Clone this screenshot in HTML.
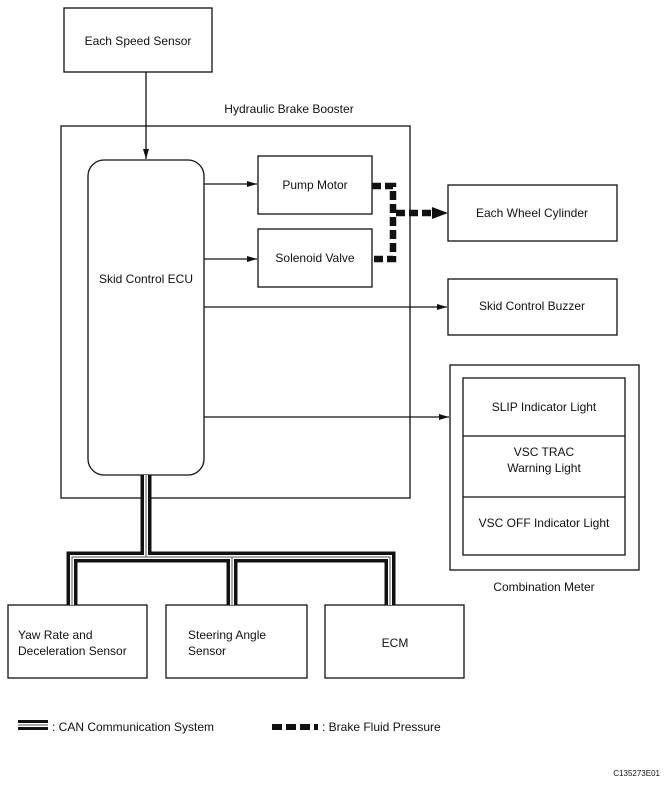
<!DOCTYPE html>
<html><head><style>
body{margin:0;background:#fff;}
svg text{font-family:"Liberation Sans",Arial,sans-serif;font-size:12px;fill:#111;}
</style></head><body>
<svg width="668" height="783" viewBox="0 0 668 783" xmlns="http://www.w3.org/2000/svg">
<defs><marker id="a" markerWidth="10" markerHeight="8" refX="10" refY="4" orient="auto" markerUnits="userSpaceOnUse"><path d="M0,1 L10,4 L0,7z" fill="#111"/></marker></defs>
<g fill="none" stroke="#111" stroke-width="1.3">
<rect x="64" y="8" width="148" height="64"/>
<rect x="61" y="126" width="349" height="372"/>
<rect x="88" y="160" width="116" height="315" rx="16"/>
<rect x="258" y="156" width="114" height="58"/>
<rect x="258" y="229" width="114" height="58"/>
<rect x="448" y="185" width="169" height="56"/>
<rect x="448" y="279" width="169" height="56"/>
<rect x="450" y="365" width="189" height="205"/>
<rect x="463" y="378" width="162" height="177"/>
<line x1="463" y1="436" x2="625" y2="436"/>
<line x1="463" y1="497" x2="625" y2="497"/>
<rect x="8" y="605" width="139" height="73"/>
<rect x="166" y="605" width="141" height="73"/>
<rect x="325" y="605" width="139" height="73"/>
<line x1="146" y1="72" x2="146" y2="159" marker-end="url(#a)"/>
<line x1="204" y1="184" x2="257" y2="184" marker-end="url(#a)"/>
<line x1="204" y1="259" x2="257" y2="259" marker-end="url(#a)"/>
<line x1="204" y1="307" x2="447" y2="307" marker-end="url(#a)"/>
<line x1="204" y1="417" x2="449" y2="417" marker-end="url(#a)"/>
</g>
<g fill="none" stroke="#111" stroke-width="6.5" stroke-dasharray="9,4">
<polyline points="372,186 393,186 393,259 372,259"/>
<line x1="396" y1="213" x2="434" y2="213"/>
</g>
<path d="M432,207 L448,213 L432,219z" fill="#111"/>
<g fill="none" stroke-linejoin="miter">
<path d="M146,475 V557 M72,605 V557 H390 V605 M232,557 V605" stroke="#111" stroke-width="11"/>
<path d="M146,475 V557 M72,605 V557 H390 V605 M232,557 V605" stroke="#fff" stroke-width="4"/>
<path d="M146,475 V557 M72,605 V557 H390 V605 M232,557 V605" stroke="#555" stroke-width="1"/>
<path d="M18,725 H48" stroke="#111" stroke-width="10"/>
<path d="M18,725 H48" stroke="#fff" stroke-width="4"/>
<path d="M18,725 H48" stroke="#555" stroke-width="1"/>
<path d="M272,727 H318" stroke="#111" stroke-width="6" stroke-dasharray="10,4"/>
</g>
<text x="138" y="45" text-anchor="middle">Each Speed Sensor</text>
<text x="289" y="113" text-anchor="middle">Hydraulic Brake Booster</text>
<text x="146" y="283" text-anchor="middle">Skid Control ECU</text>
<text x="315" y="189" text-anchor="middle">Pump Motor</text>
<text x="315" y="262" text-anchor="middle">Solenoid Valve</text>
<text x="532" y="217" text-anchor="middle">Each Wheel Cylinder</text>
<text x="532" y="310" text-anchor="middle">Skid Control Buzzer</text>
<text x="544" y="411" text-anchor="middle">SLIP Indicator Light</text>
<text x="544" y="456" text-anchor="middle">VSC TRAC</text>
<text x="544" y="472" text-anchor="middle">Warning Light</text>
<text x="544" y="527" text-anchor="middle">VSC OFF Indicator Light</text>
<text x="544" y="591" text-anchor="middle">Combination Meter</text>
<text x="18" y="639">Yaw Rate and</text>
<text x="18" y="655">Deceleration Sensor</text>
<text x="188" y="639">Steering Angle</text>
<text x="188" y="655">Sensor</text>
<text x="395" y="647" text-anchor="middle">ECM</text>
<text x="52" y="731">: CAN Communication System</text>
<text x="322" y="731">: Brake Fluid Pressure</text>
<text x="660" y="776" text-anchor="end" style="font-size:8px">C135273E01</text>
</svg>
</body></html>
